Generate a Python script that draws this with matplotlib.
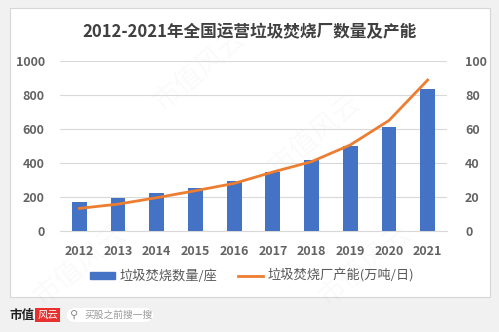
import matplotlib
matplotlib.use("Agg")
import matplotlib.pyplot as plt
from matplotlib.patches import FancyBboxPatch, Rectangle
from matplotlib.lines import Line2D

plt.rcParams['font.family'] = ['Noto Sans CJK SC', 'DejaVu Sans']

years = ['2012', '2013', '2014', '2015', '2016', '2017', '2018', '2019', '2020', '2021']
plants = [168, 196, 222, 255, 296, 349, 416, 498, 614, 835]
capacity = [13.3, 15.8, 19.6, 23.7, 28.0, 34.7, 40.8, 50.6, 65.0, 88.8]

left_ticks = [0, 200, 400, 600, 800, 1000]
right_ticks = [0, 20, 40, 60, 80, 100]

W, H = 499, 332
fig = plt.figure(figsize=(W / 100, H / 100), dpi=100)
fig.patch.set_facecolor('#f1f1f1')

def px(x, y, w, h):
    # pixel box (top-left origin) -> figure fraction
    return [x / W, 1 - (y + h) / H, w / W, h / H]

# white card
card = Rectangle((9.5 / W, 1 - 296.5 / H), 480 / W, 289 / H,
                 transform=fig.transFigure, facecolor='white',
                 edgecolor='#d6d6d6', linewidth=0.8, zorder=-5)
fig.patches.append(card)

# faint watermarks
for (wx, wy) in [(315, 135), (200, 70), (365, 265), (80, 265)]:
    fig.text(wx / W, 1 - wy / H, '市值风云', fontsize=20, color='#000000', alpha=0.025,
             rotation=40, ha='center', va='center', zorder=-4)

fig.text(250 / W, 1 - 32 / H, '2012-2021年全国运营垃圾焚烧厂数量及产能',
         ha='center', va='center', fontsize=12, fontweight='bold', color='#404040')

ax = fig.add_axes(px(60, 61, 387, 170))
ax2 = ax.twinx()
ax2.patch.set_visible(False)
ax.patch.set_visible(False)

xs = range(len(years))
ax.bar(xs, plants, width=0.38, color='#4472c4', zorder=3)
ax2.plot(xs, capacity, color='#ed7d31', linewidth=2.0, zorder=4)

ax.set_xlim(-0.5, len(years) - 0.5)
ax.set_ylim(0, 1000)
ax2.set_ylim(0, 100)
ax.set_yticks(left_ticks)
ax2.set_yticks(right_ticks)
ax.set_xticks(list(xs))
ax.set_xticklabels(years)
ax.grid(axis='y', color='#d9d9d9', linewidth=0.8, zorder=0)
ax.set_axisbelow(True)
for a in (ax, ax2):
    for s in a.spines.values():
        s.set_visible(False)
    a.tick_params(length=0, labelsize=9, labelcolor='#636363')
ax.spines['bottom'].set_visible(True)
ax.spines['bottom'].set_color('#d9d9d9')
ax.tick_params(axis='y', pad=11)
ax2.tick_params(axis='y', pad=13)
ax.tick_params(axis='x', pad=10)
for lab in ax.get_xticklabels() + ax.get_yticklabels() + ax2.get_yticklabels():
    lab.set_fontweight('bold')

handles = [Rectangle((0, 0), 1, 1, color='#4472c4'),
           Line2D([0], [0], color='#ed7d31', linewidth=2.0)]
fig.legend(handles, ['垃圾焚烧数量/座', '垃圾焚烧厂产能(万吨/日)'],
           loc='center', bbox_to_anchor=(252 / W, 1 - 276 / H), ncol=2,
           frameon=False, fontsize=9.5, labelcolor='#595959',
           handlelength=1.9, handleheight=0.45, columnspacing=1.6, handletextpad=0.3)

# footer logo + search pill
fig.text(9 / W, 1 - 315 / H, '市值', fontsize=9, fontweight='bold', color='#222222',
         ha='left', va='center')
fig.patches.append(Rectangle((35 / W, 1 - 322 / H), 25 / W, 14 / H,
                             transform=fig.transFigure, facecolor='#e8302f', edgecolor='none'))
fig.text(47.5 / W, 1 - 315 / H, '风云', fontsize=7.5, fontstyle='italic', color='white',
         ha='center', va='center')
pill = FancyBboxPatch((66 / W, 1 - 322 / H), 88 / W, 14 / H,
                      boxstyle='round,pad=0,rounding_size=0.02', transform=fig.transFigure,
                      facecolor='white', edgecolor='none', mutation_aspect=W / H)
fig.patches.append(pill)
fig.text(74 / W, 1 - 315 / H, '⚲', fontsize=8, color='#888888', ha='center', va='center',
         family=['DejaVu Sans'])
fig.text(84 / W, 1 - 315 / H, '买股之前搜一搜', fontsize=7, color='#999999',
         ha='left', va='center')

fig.savefig('out.png', dpi=100, facecolor=fig.get_facecolor())
